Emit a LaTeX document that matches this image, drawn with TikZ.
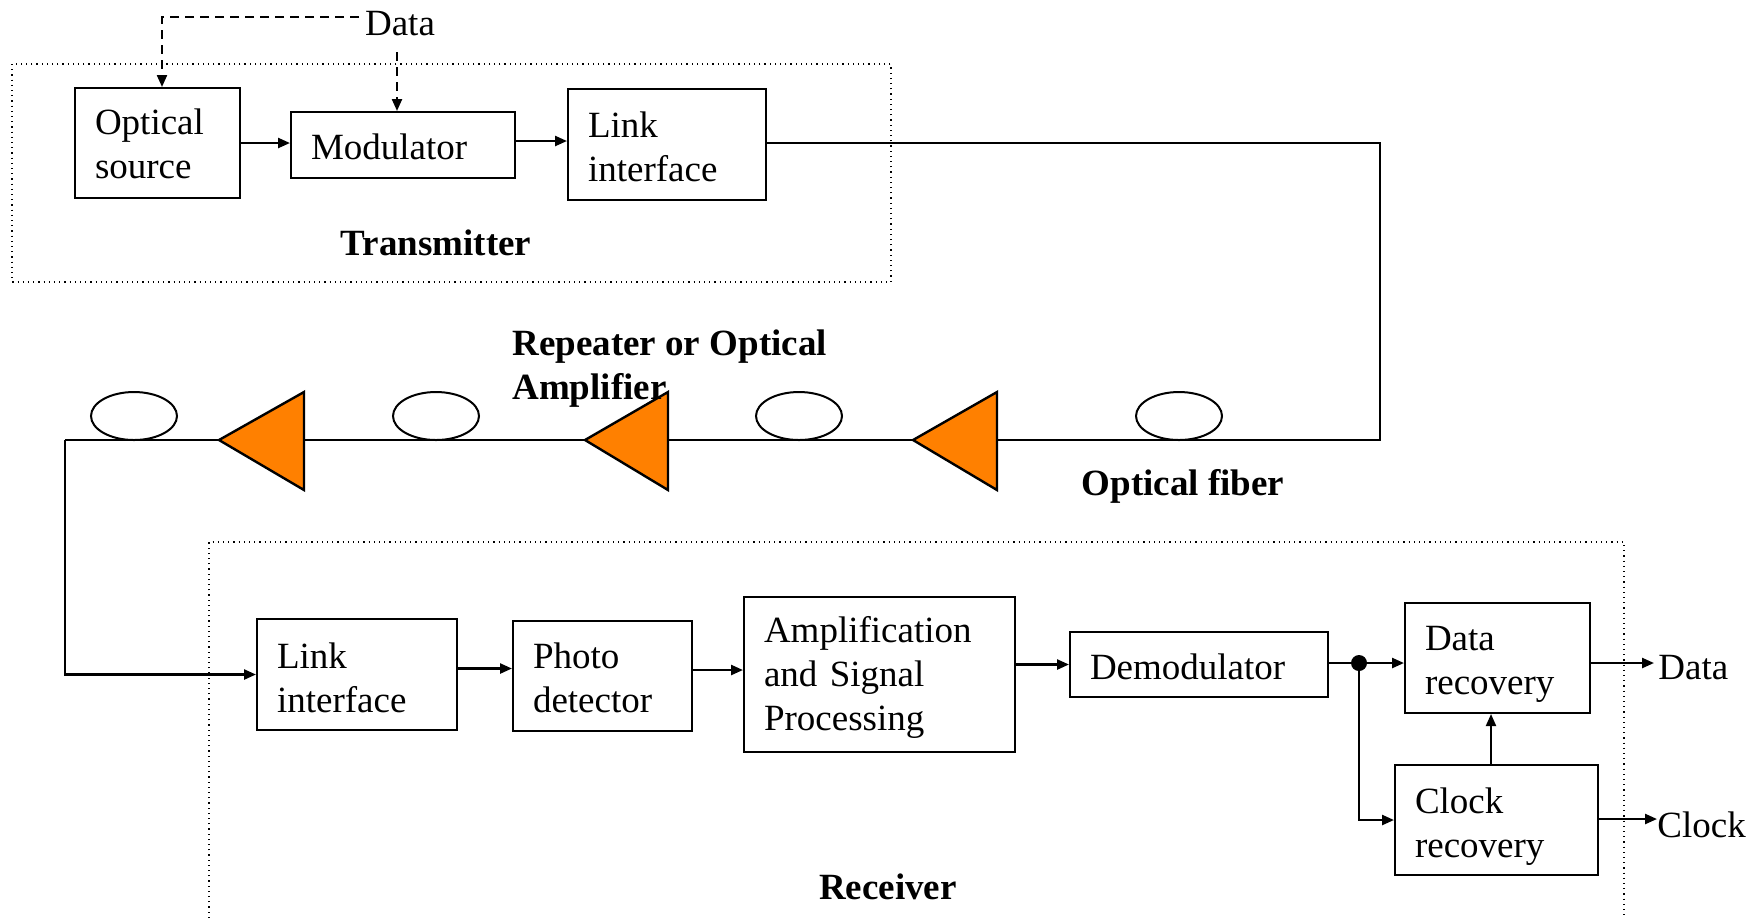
\documentclass[tikz,border=0pt]{standalone}
\usepackage{fontspec}
\setmainfont{Liberation Serif}
\usetikzlibrary{arrows.meta,calc}
\definecolor{ampor}{RGB}{255,128,0}
\newcommand\fsz{\fontsize{18.5pt}{22pt}\selectfont}
\begin{document}
\begin{tikzpicture}[x=0.5pt,y=-0.5pt,
  box/.style={draw, line width=1pt, inner sep=0pt},
  btxt/.style={inner xsep=0pt, inner ysep=0pt, align=left, font=\fsz},
  arr/.style={line width=1.2pt, -{Triangle[length=6pt,width=5pt]}},
  dsh/.style={line width=1.1pt, dash pattern=on 4.5pt off 3pt},
  dotbox/.style={line width=0.6pt, dotted},
  lbl/.style={font=\fsz\bfseries, inner sep=0pt, align=left},
  txt/.style={font=\fsz, inner sep=0pt},
  ampl/.style={draw, line width=1.2pt, fill=ampor, line join=miter},
  fiber/.style={line width=1.1pt},
  spool/.style={draw, line width=1pt, fill=white}]
\useasboundingbox (0,0) rectangle (1760,918);

% Transmitter
\draw[dotbox] (12,64) rectangle (891,282);
\node[box, minimum width=82.5pt, minimum height=55pt] (osrc) at (157.5,143) {};
\node[btxt, text width=62.5pt] (osrct) at ($(osrc.center)+(0,1)$) {Optical\\source};
\node[box, minimum width=112pt, minimum height=33pt] (mod) at (403,145) {};
\node[btxt, text width=92pt] (modt) at ($(mod.center)+(0,2)$) {Modulator};
\node[box, minimum width=99pt, minimum height=55.5pt] (tli) at (667,144.5) {};
\node[btxt, text width=79pt] (tlit) at ($(tli.center)+(0,2)$) {Link\\interface};
\node[lbl] (tx) at (436,243) {Transmitter};

\node[txt] (dtop) at (400,24) {Data};
\coordinate (dl) at (359,17);
\coordinate (dm) at (397,52);
\draw[dsh, -{Triangle[length=6pt,width=5pt]}] (dl) -| ([xshift=2.25pt]osrc.north);
\draw[dsh, -{Triangle[length=6pt,width=5pt]}] (dm) -- (dm |- mod.north);

\draw[arr] (osrc.east) -- (osrc.east -| mod.west);
\draw[arr] ([yshift=2pt]mod.east) -- ([yshift=2pt]mod.east -| tli.west);

% Fiber link
\coordinate (fc) at (1380,440);
\coordinate (fl) at (65,440);
\draw[fiber] ([yshift=0.75pt]tli.east) -| (fc) -- (fl);

\foreach \cx in {134,436,799,1179}{
  \draw[spool] (\cx,416) ellipse [x radius=21.5pt, y radius=12pt];
}
\draw[ampl] (219,440) -- (304,392) -- (304,490) -- cycle;
\draw[ampl] (585,440) -- (668,392) -- (668,490) -- cycle;
\draw[ampl] (913,440) -- (997,392) -- (997,490) -- cycle;

\node[lbl, anchor=west] (rep) at (512,369) {Repeater or Optical\\Amplifier};
\node[lbl] (of) at (1183,486) {Optical fiber};

% Receiver
\draw[dotbox] (209,918) -- (209,542) -- (1624,542) -- (1624,918);
\node[box, minimum width=100pt, minimum height=55.5pt] (rli) at (357,674.5) {};
\node[btxt, text width=80pt] (rlit) at ($(rli.center)+(0,3)$) {Link\\interface};
\node[box, minimum width=89.5pt, minimum height=55pt] (pd) at (602.5,676) {};
\node[btxt, text width=69.5pt] (pdt) at ($(pd.center)+(0,2)$) {Photo\\detector};
\node[box, minimum width=135.5pt, minimum height=77.5pt] (amp) at (879.5,674) {};
\node[btxt, text width=115.5pt] (ampt) at ($(amp.center)+(0,3)$) {Amplification\\and Signal\\Processing};
\node[box, minimum width=129pt, minimum height=32.5pt] (demod) at (1199,664.5) {};
\node[btxt, text width=109pt] (demodt) at ($(demod.center)+(0,2)$) {Demodulator};
\node[box, minimum width=92.5pt, minimum height=55pt] (drec) at (1497.5,658) {};
\node[btxt, text width=72.5pt] (drect) at ($(drec.center)+(0,6)$) {Data\\recovery};
\node[box, minimum width=101.5pt, minimum height=55pt] (crec) at (1496.5,820) {};
\node[btxt, text width=81.5pt] (crect) at ($(crec.center)+(0,6.5)$) {Clock\\recovery};
\node[lbl] (rx) at (888,887) {Receiver};

\draw[arr] (fl) |- (rli.west);
\draw[arr] ([yshift=3pt]rli.east) -- ([yshift=3pt]rli.east -| pd.west);
\draw[arr] ([yshift=3pt]pd.east) -- ([yshift=3pt]pd.east -| amp.west);
\draw[arr] (demod.west -| amp.east) -- (demod.west);

\coordinate (dot) at (1359,663);
\draw[arr] (demod.east |- dot) -- (dot -| drec.west);
\draw[arr] (dot) |- (crec.west);
\fill (dot) circle (4pt);
\draw[line width=1pt, -{Triangle[length=6pt,width=5pt]}] (1491,0 |- crec.north) -- (1491,0 |- drec.south);

\coordinate (dout) at (1654,663);
\coordinate (cout) at (1657,819);
\draw[arr] (drec.east |- dout) -- (dout);
\draw[arr] (crec.east |- cout) -- (cout);
\node[txt, anchor=west] (dlab) at ($(dout)+(4,4.5)$) {Data};
\node[txt, anchor=west] (clab) at ($(cout)+(0,5.5)$) {Clock};
\end{tikzpicture}
\end{document}
